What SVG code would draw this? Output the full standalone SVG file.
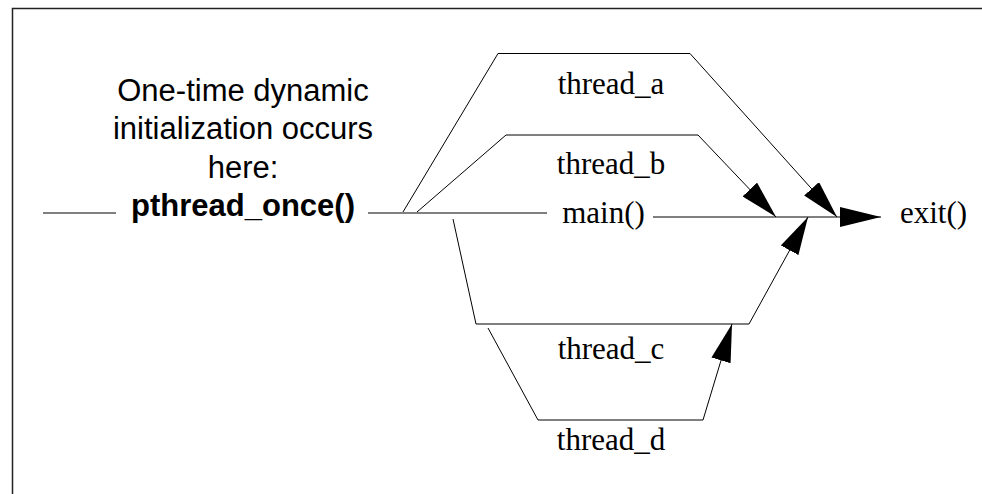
<svg xmlns="http://www.w3.org/2000/svg" width="982" height="494" viewBox="0 0 982 494">
<style>
.ln{fill:none;stroke:#000;stroke-width:1}
.sans{font-family:"Liberation Sans",Arial,sans-serif;font-size:31px;fill:#000}
.serif{font-family:"Liberation Serif","Times New Roman",serif;font-size:31px;fill:#000}
</style>
<defs>
<marker id="ah" markerUnits="userSpaceOnUse" markerWidth="40" markerHeight="20" refX="38" refY="10" orient="auto" viewBox="0 0 40 20">
<path d="M0,0 L38,10 L0,20 z" fill="#000"/>
</marker>
<marker id="ahm" markerUnits="userSpaceOnUse" markerWidth="42" markerHeight="22" refX="41" refY="10" orient="auto" viewBox="0 0 42 20">
<path d="M0,0 L41,10 L0,20 z" fill="#000"/>
</marker>
</defs>
<rect x="0" y="0" width="982" height="494" fill="#fff"/>
<rect x="12.5" y="8.5" width="1000" height="600" fill="none" stroke="#222" stroke-width="1.5"/>
<g id="connectors">
<line class="ln" x1="43" y1="213" x2="116" y2="213"/>
<line class="ln" x1="368" y1="213" x2="547" y2="213"/>
<line class="ln" x1="653" y1="217" x2="881" y2="217" marker-end="url(#ahm)"/>
<polyline class="ln" points="403,212 498,53.5 690,53.5 837,217" marker-end="url(#ah)"/>
<polyline class="ln" points="417,212 506,135 698,135 776,217" marker-end="url(#ah)"/>
<polyline class="ln" points="453,219 476,324 749,324 808,217" marker-end="url(#ah)"/>
<polyline class="ln" points="488,328 538,420 703,420 732,324" marker-end="url(#ah)"/>
</g>
<g id="init-note">
<text class="sans" x="243" y="101" text-anchor="middle">One-time dynamic</text>
<text class="sans" x="243" y="139" text-anchor="middle">initialization occurs</text>
<text class="sans" x="243" y="177.5" text-anchor="middle">here:</text>
<text class="sans" x="243" y="216" text-anchor="middle" font-weight="bold">pthread_once()</text>
</g>
<g id="thread_a"><text class="serif" x="611" y="93.5" text-anchor="middle">thread_a</text></g>
<g id="thread_b"><text class="serif" x="611" y="173.5" text-anchor="middle">thread_b</text></g>
<g id="main"><text class="serif" x="603.5" y="223" text-anchor="middle">main()</text></g>
<g id="exit"><text class="serif" x="900" y="223">exit()</text></g>
<g id="thread_c"><text class="serif" x="611" y="358.5" text-anchor="middle">thread_c</text></g>
<g id="thread_d"><text class="serif" x="611" y="450" text-anchor="middle">thread_d</text></g>
</svg>
